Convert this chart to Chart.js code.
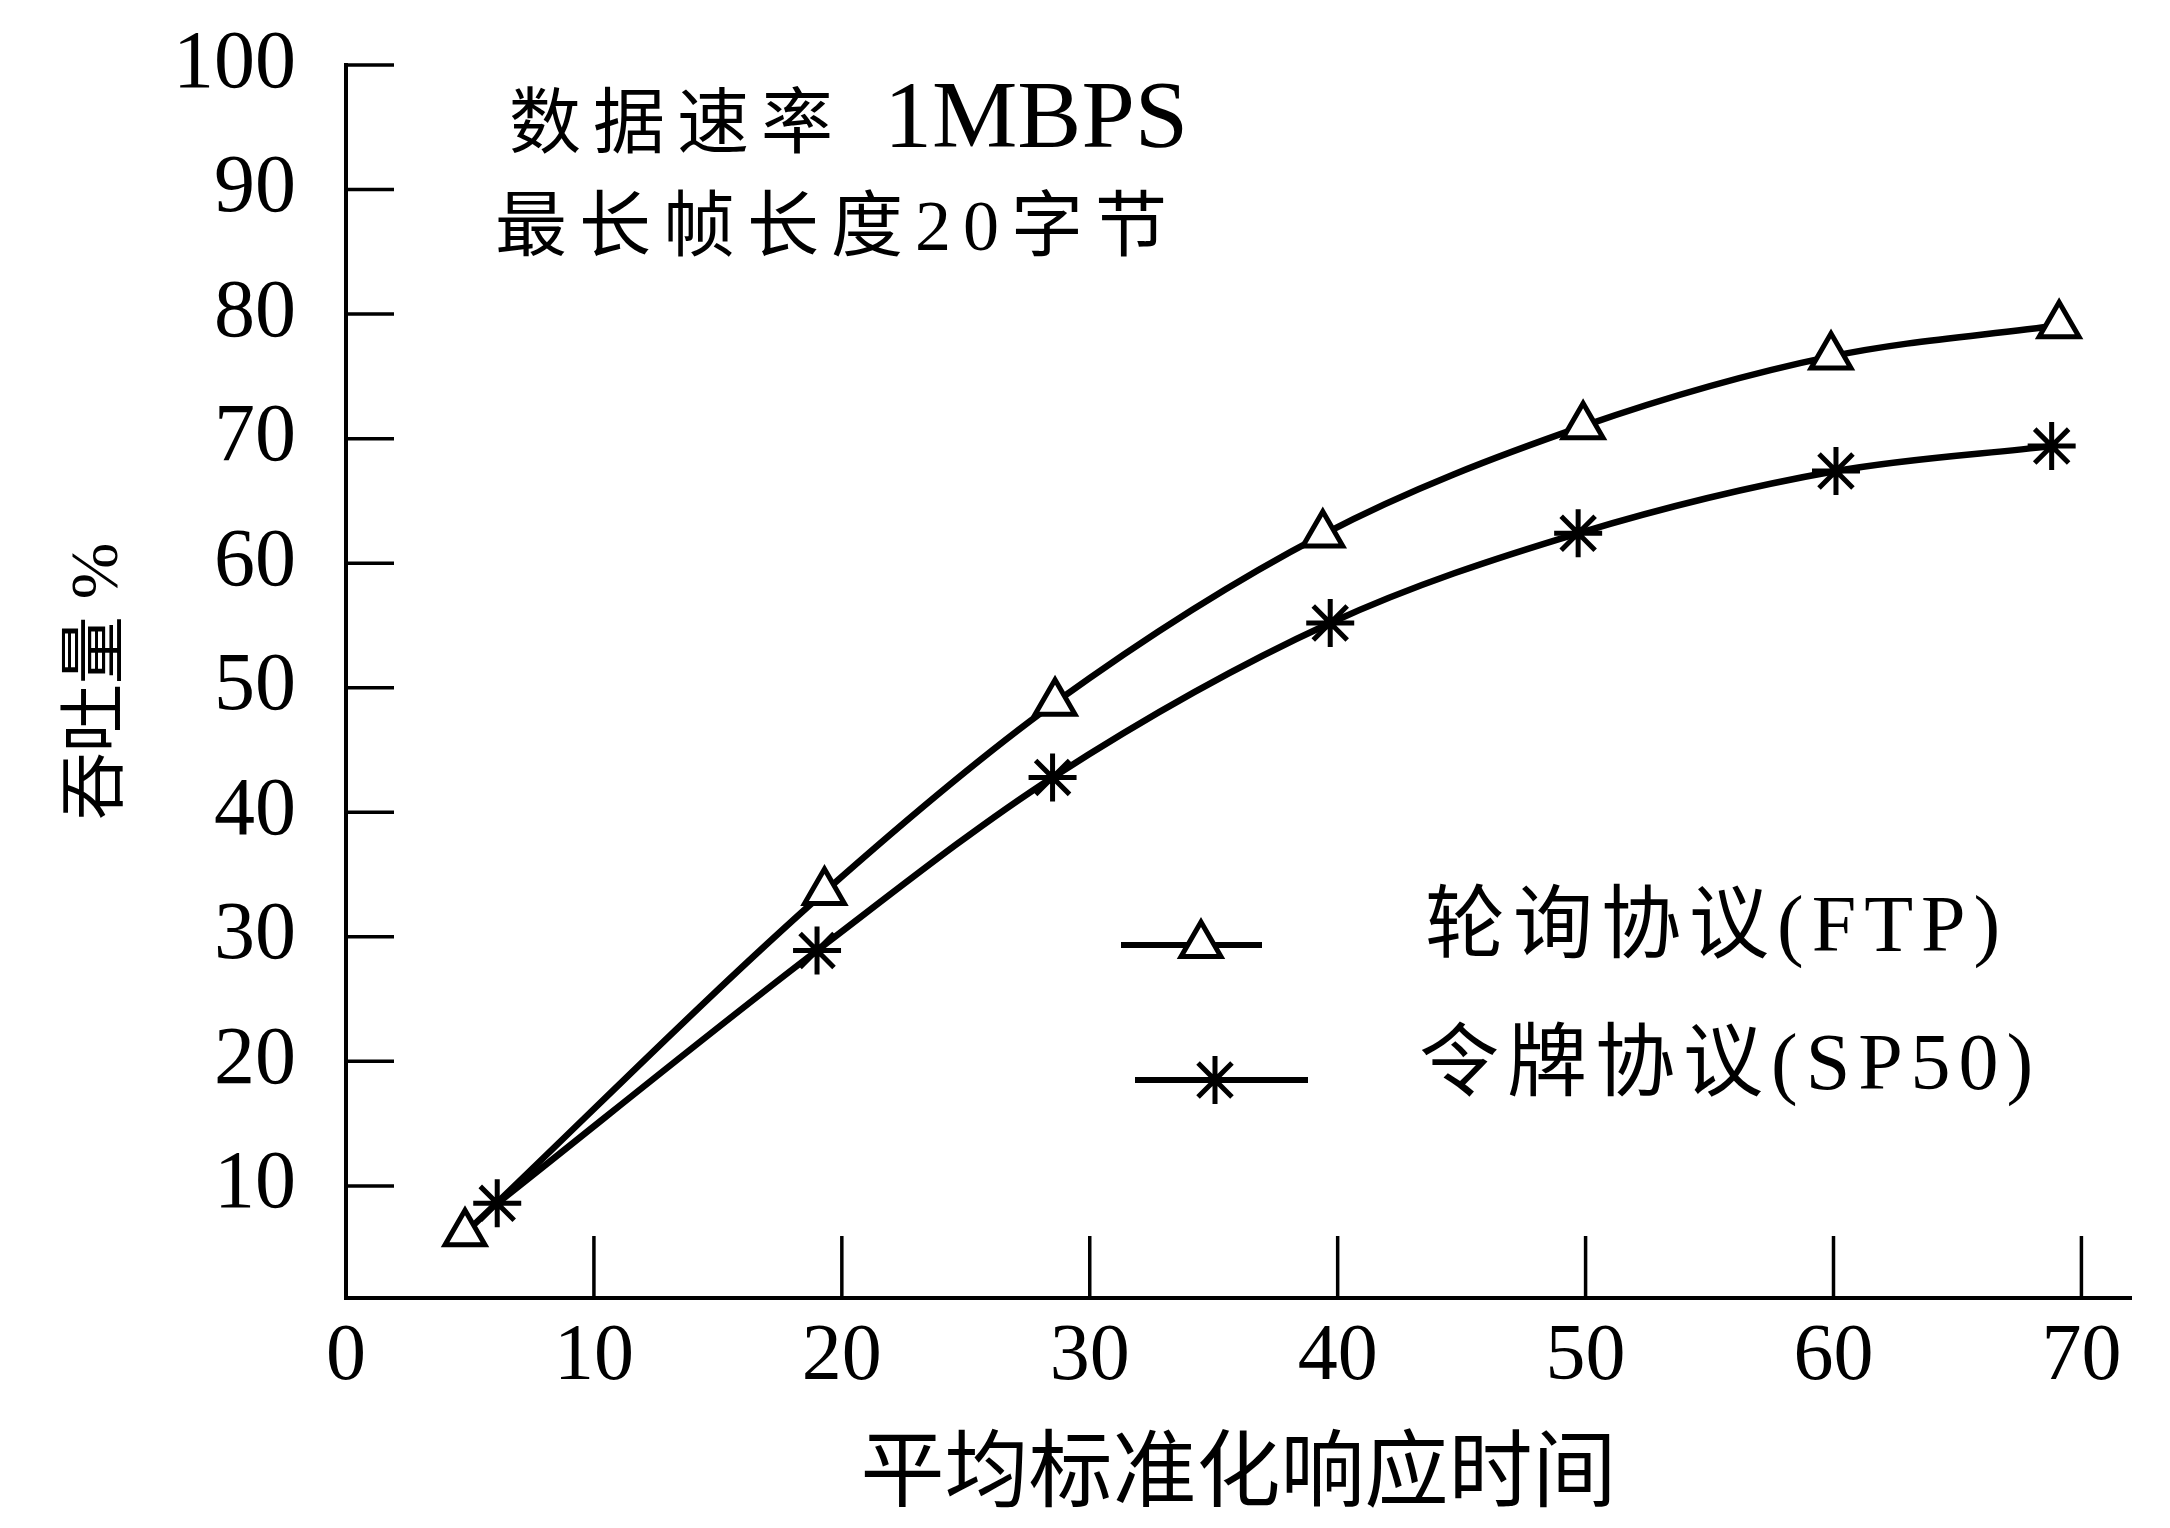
<!DOCTYPE html>
<html><head><meta charset="utf-8">
<script src="https://cdn.jsdelivr.net/npm/chart.js@4/dist/chart.umd.min.js"></script>
<style>html,body{margin:0;padding:0;background:#fff;}canvas{display:block;}</style>
</head><body>
<canvas id="c" width="2170" height="1528"></canvas>
<script>
// ---- data ----
const ftpX = [4.8, 19.3, 28.6, 39.4, 49.9, 59.9, 69.1];
const ftpY = [6.2, 33.6, 48.8, 62.3, 71, 76.6, 79.1];
const spX  = [6.1, 19.0, 28.5, 39.7, 49.7, 60.1, 68.8];
const spY  = [8.6, 28.9, 42.8, 55.2, 62.4, 67.4, 69.4];
const xTicks = [0, 10, 20, 30, 40, 50, 60, 70];
const yTicks = [10, 20, 30, 40, 50, 60, 70, 80, 90, 100];
const seriesNames = ['轮询协议(FTP)', '令牌协议(SP50)'];
const noteLine1 = ['数据速率', '1MBPS'];
const noteLine2 = '最长帧长度20字节';
const xTitle = '平均标准化响应时间';
const yTitle = '吞吐量 %';

const SERIF = '"Liberation Serif", "Noto Sans CJK SC", serif';
const CJK = '"Liberation Serif", "Noto Sans CJK SC", sans-serif';

const toPts = (xs, ys) => xs.map((v, i) => ({x: v, y: ys[i]}));

const whiteBg = {
  id: 'whiteBg',
  beforeDraw(chart) {
    const c = chart.ctx; c.save(); c.fillStyle = '#fff';
    c.fillRect(0, 0, chart.width, chart.height); c.restore();
  }
};

const inwardTicks = {
  id: 'inwardTicks',
  afterDatasetsDraw(chart) {
    const {ctx, scales: {x, y}, chartArea: a} = chart;
    ctx.save(); ctx.strokeStyle = '#000'; ctx.lineWidth = 3.5;
    x.ticks.forEach(t => {
      if (t.value === 0) return;
      const px = x.getPixelForValue(t.value);
      ctx.beginPath(); ctx.moveTo(px, a.bottom); ctx.lineTo(px, a.bottom - 62); ctx.stroke();
    });
    y.ticks.forEach(t => {
      const py = y.getPixelForValue(t.value);
      ctx.beginPath(); ctx.moveTo(a.left, py); ctx.lineTo(a.left + 48, py); ctx.stroke();
    });
    ctx.restore();
  }
};

const notes = {
  id: 'notes',
  afterDraw(chart) {
    const ctx = chart.ctx;
    ctx.save();
    ctx.fillStyle = '#000';
    ctx.textBaseline = 'middle';
    ctx.textAlign = 'left';
    ctx.font = '72px ' + CJK;
    ctx.letterSpacing = '12px';
    ctx.fillText(noteLine1[0], 509, 128);
    ctx.fillText(noteLine2, 495, 231);
    ctx.letterSpacing = '0px';
    ctx.font = '96px ' + SERIF;
    ctx.fillText(noteLine1[1], 884, 122);
    ctx.restore();
  }
};

const customLegend = {
  id: 'customLegend',
  afterDraw(chart) {
    const ctx = chart.ctx;
    const rows = [
      {x1: 1121, x2: 1262, y: 945, mx: 1201, tx: 1425, ty: 930},
      {x1: 1135, x2: 1308, y: 1080, mx: 1215, tx: 1419, ty: 1068}
    ];
    chart.data.datasets.forEach((ds, i) => {
      const r = rows[i];
      ctx.save();
      ctx.strokeStyle = '#000'; ctx.lineWidth = 6;
      ctx.beginPath(); ctx.moveTo(r.x1, r.y); ctx.lineTo(r.x2, r.y); ctx.stroke();
      ctx.fillStyle = '#fff'; ctx.lineWidth = 5;
      Chart.helpers.drawPoint(ctx, {pointStyle: ds.pointStyle, radius: ds.pointRadius, borderWidth: 5, rotation: 0}, r.mx, r.y);
      ctx.fillStyle = '#000';
      ctx.font = '80px ' + CJK;
      ctx.letterSpacing = '8px';
      ctx.textBaseline = 'middle'; ctx.textAlign = 'left';
      ctx.fillText(ds.label, r.tx, r.ty);
      ctx.restore();
    });
  }
};

new Chart(document.getElementById('c'), {
  type: 'scatter',
  data: {
    datasets: [
      {
        label: seriesNames[0], data: toPts(ftpX, ftpY), showLine: true,
        borderColor: '#000', borderWidth: 6.5, cubicInterpolationMode: 'monotone',
        pointStyle: 'triangle', pointRadius: 23, pointBorderWidth: 5,
        pointBackgroundColor: '#fff', pointBorderColor: '#000'
      },
      {
        label: seriesNames[1], data: toPts(spX, spY), showLine: true,
        borderColor: '#000', borderWidth: 6.5, cubicInterpolationMode: 'monotone',
        pointStyle: 'star', pointRadius: 24, pointBorderWidth: 5,
        pointBackgroundColor: '#fff', pointBorderColor: '#000'
      }
    ]
  },
  options: {
    responsive: false, animation: false, devicePixelRatio: 1,
    layout: {padding: {left: 0, right: 39, top: 65, bottom: 0}},
    plugins: {legend: {display: false}, tooltip: {enabled: false}},
    elements: {line: {fill: false}},
    scales: {
      x: {
        type: 'linear', min: 0, max: 72,
        afterBuildTicks: s => { s.ticks = xTicks.map(v => ({value: v})); },
        afterFit: s => { s.height = 230; s.paddingLeft = 0; s.paddingRight = 0; },
        grid: {display: false},
        border: {display: true, color: '#000', width: 4},
        ticks: {color: '#000', font: {family: SERIF, size: 80}, padding: 4, maxRotation: 0, autoSkip: false},
        title: {display: true, text: xTitle, color: '#000', font: {family: CJK, size: 84}, padding: {top: 0, bottom: 0}}
      },
      y: {
        type: 'linear', min: 1, max: 100,
        afterBuildTicks: s => { s.ticks = yTicks.map(v => ({value: v})); },
        afterFit: s => { s.width = 346; s.paddingTop = 0; s.paddingBottom = 0; },
        grid: {display: false},
        border: {display: true, color: '#000', width: 4},
        ticks: {color: '#000', font: {family: SERIF, size: 82}, padding: 42, autoSkip: false},
        title: {display: true, text: yTitle, color: '#000', font: {family: CJK, size: 68}, padding: {top: 58, bottom: 0}}
      }
    }
  },
  plugins: [whiteBg, inwardTicks, notes, customLegend]
});
</script>
</body></html>
